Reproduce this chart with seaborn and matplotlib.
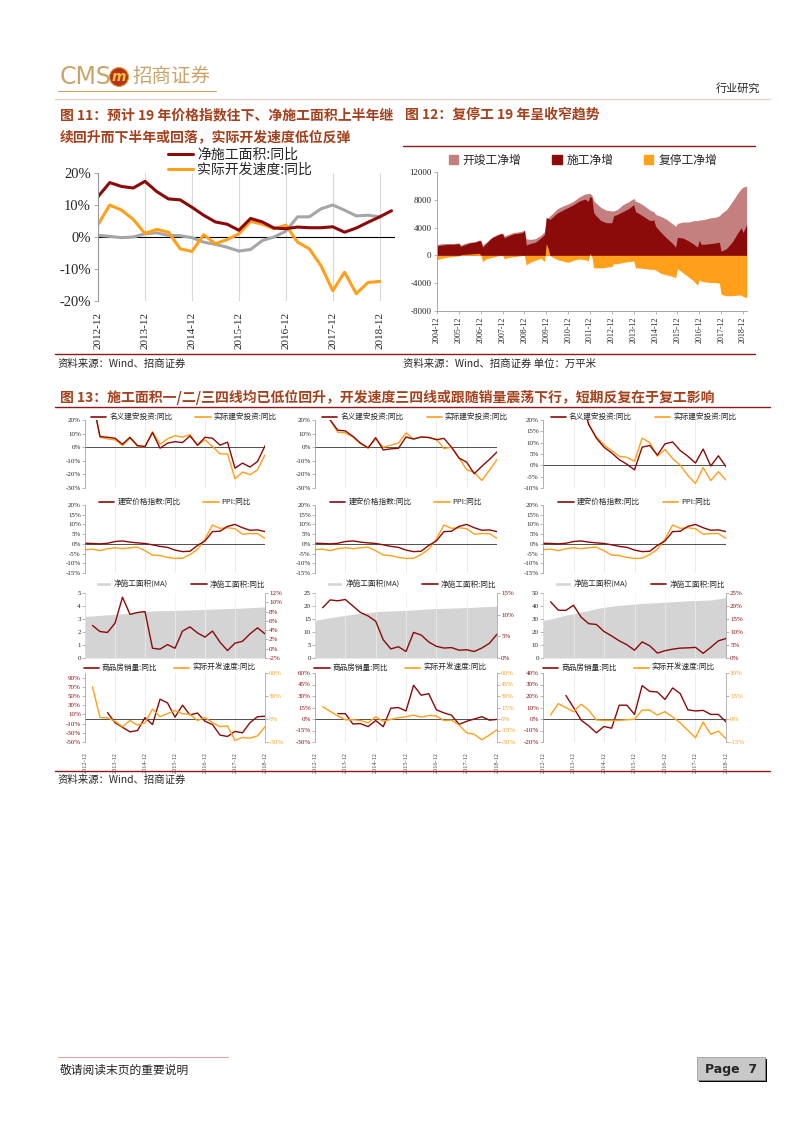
import numpy as np
import matplotlib.pyplot as plt
import seaborn as sns
from matplotlib.lines import Line2D
from matplotlib.patches import Patch, Rectangle, Ellipse

sns.set_theme(style='white')
SERIF = ['Liberation Serif', 'Noto Sans CJK SC']
CJK = ['Noto Sans CJK SC', 'DejaVu Sans']
plt.rcParams['font.family'] = SERIF
plt.rcParams['axes.unicode_minus'] = False

DARK = '#8B0A0A'
ORANGE = '#FF9F1A'
GREY = '#A6A6A6'
ROSE = '#C4807F'
AREA = '#D4D4D4'
TITLE = '#A5401C'
RULE = '#8B1A1A'
GOLD = '#C9A46A'
SPINE = '#9A9A9A'

# ---------------- data ----------------
year_labels = ['2012-12', '2013-12', '2014-12', '2015-12', '2016-12', '2017-12', '2018-12']

# fig 11, quarterly from 2012-12
f11_net_area = [12.6, 17.0, 15.8, 15.3, 17.4, 14.2, 11.9, 11.6, 9.3, 6.8, 4.7, 4.0, 2.1,
                5.8, 4.7, 2.8, 2.6, 3.1, 2.9, 2.9, 3.2, 1.5, 2.8, 4.6, 6.3, 8.2]
f11_dev_speed = [3.9, 10.0, 8.4, 5.5, 1.1, 2.4, 1.5, -3.7, -4.5, 0.7, -2.1, -0.8, 1.0,
                 4.9, 4.0, 2.6, 3.7, -1.6, -3.7, -9.0, -16.8, -11.0, -17.7, -14.2, -13.9]
f11_grey = [0.5, 0.2, -0.2, 0.0, 1.0, 1.3, 0.5, 0.4, -0.2, -1.6, -2.3, -3.2, -4.4,
            -3.9, -1.1, 0.0, 1.8, 6.3, 6.3, 8.8, 10.0, 8.4, 6.6, 6.8, 6.3]

# fig 12, monthly readings (万平米)
f12_dates = ['2004-12', '2005-03', '2005-06', '2005-09', '2005-12', '2006-01', '2006-03', '2006-06',
             '2006-09', '2006-11', '2006-12', '2007-01', '2007-03', '2007-06', '2007-09', '2007-11',
             '2007-12', '2008-01', '2008-03', '2008-06', '2008-09', '2008-11', '2008-12', '2009-01',
             '2009-03', '2009-06', '2009-09', '2009-11', '2009-12', '2010-01', '2010-02', '2010-03',
             '2010-06', '2010-09', '2010-12', '2011-03', '2011-06', '2011-09', '2011-11', '2011-12',
             '2012-01', '2012-02', '2012-03', '2012-06', '2012-09', '2012-12', '2013-01', '2013-03',
             '2013-06', '2013-09', '2013-12', '2014-01', '2014-03', '2014-06', '2014-09', '2014-11',
             '2014-12', '2015-03', '2015-06', '2015-09', '2015-11', '2015-12', '2016-03', '2016-06',
             '2016-09', '2016-11', '2016-12', '2017-01', '2017-03', '2017-06', '2017-09', '2017-11',
             '2017-12', '2018-03', '2018-06', '2018-09', '2018-11', '2018-12', '2019-02']
f12_construct = [1400, 1500, 1600, 1600, 1700, 1300, 1500, 1800,
                 1900, 2100, 2100, 1200, 1700, 2500, 2900, 3100,
                 3100, 2500, 2800, 3100, 3200, 3300, 3600, 1500,
                 1700, 1900, 2500, 3000, 5400, 5300, 5200, 5400,
                 6100, 6500, 6900, 7300, 7800, 8100, 7800, 8500,
                 8300, 6200, 5800, 5000, 4700, 4700, 5700, 5900,
                 6300, 6700, 7300, 6300, 6000, 5500, 5000, 5100,
                 4200, 3300, 2500, 1800, 1200, 2600, 2500, 2100,
                 1600, 1200, 2200, 1600, 1600, 1700, 1800, 1900,
                 600, 1000, 1900, 3200, 4000, 3300, 4400]
f12_total = [1600, 1700, 1700, 1700, 1800, 1500, 1700, 1900,
             2000, 2200, 2200, 1500, 1900, 2600, 3000, 3200,
             3200, 2800, 3000, 3300, 3400, 3500, 3700, 2400,
             2300, 2400, 2900, 3400, 5500, 5400, 5700, 5900,
             6700, 7100, 7400, 7800, 8400, 8800, 8900, 8900,
             8700, 7900, 7600, 6900, 6500, 6400, 6400, 6600,
             7300, 7700, 8200, 7800, 7600, 7100, 6500, 6300,
             5900, 5600, 5200, 4600, 4200, 4600, 4800, 4800,
             5000, 5000, 5100, 5100, 5200, 5400, 5500, 5700,
             6000, 6600, 7700, 8900, 9600, 9800, 10000]
f12_resume = [-600, -400, -250, -150, -100, 100, 150, 200,
              250, 300, 100, -900, -500, -300, -100, 0,
              0, -500, -300, -200, -100, 0, 0, -1400,
              -1000, -700, -400, -900, 1700, 1000, 0, -200,
              -600, -800, -1000, -700, -500, -600, -800, 300,
              -200, -1800, -1800, -1800, -1700, -1600, -1200, -1200,
              -1000, -900, -800, -1800, -1800, -1900, -2000, -2000,
              -2100, -2600, -2800, -3000, -3200, -1900, -2500, -3100,
              -3700, -4300, -3500, -3700, -3800, -3900, -3900, -4000,
              -5600, -5800, -5800, -5700, -5700, -5900, -6100]

# fig 13, quarterly, every series ends at 2018-12
inv_nominal_1 = [35, 7.8, 7.3, 6.6, 2.2, 7.3, 1.2, 0.5, 10.7, -0.7, 2.9, 4.1, 3.4, 8.3, 1.5,
                 7.3, 6.6, 1.5, 3.7, -15.4, -11.7, -14.6, -10.5, 1.0]
inv_real_1 = [35, 7.3, 6.1, 5.4, 1.2, 6.6, 0.5, 0.5, 11.5, 2.2, 6.1, 8.5, 7.3, 9.3, 1.2,
              5.4, 0.5, -4.9, -4.9, -23.2, -18.3, -20.2, -16.6, -5.6]
inv_nominal_2 = [30, 20, 12.5, 12, 8, 3, -0.5, 7, -2, -1.2, -0.8, 7.5, 6, 7.5, 7.2, 5.5,
                 6.5, 0, -8, -11, -19.5, -14, -9, -3.5]
inv_real_2 = [30, 20, 11, 10.5, 7.5, 2.5, -0.5, 6, 0, 1.5, 3, 10.5, 6, 7.5, 7, 6,
              -1, 0, -8, -16.5, -18.5, -24.5, -17, -9]
inv_nominal_3 = [30, 18, 12, 8, 5.5, 2.5, 0.5, -2, 8, 8.8, 4.5, 9.5, 10.3, 6.5, 4, 1,
                 7.2, -0.3, 4.2, -0.6]
inv_real_3 = [30, 18, 12.5, 9, 6.5, 4, 3.5, 1.8, 12, 10, 4, 7, 3, 0, -4.5, -8,
              -1, -6.7, -2.8, -6.5]

cons_price = [0.3, 0.2, 0.0, 0.3, 1.2, 1.5, 0.9, 0.5, 0.2, -0.5, -1.3, -1.8, -3.2, -4.0,
              -3.8, -0.8, 1.5, 6.3, 6.5, 9.0, 10.0, 8.3, 7.0, 7.2, 6.3]
ppi = [-3.0, -2.7, -3.5, -2.5, -2.0, -2.5, -2.0, -1.7, -3.5, -5.8, -6.0, -7.0, -7.5, -7.4,
       -5.5, -2.8, 2.5, 9.7, 8.0, 8.3, 7.8, 5.0, 5.3, 5.3, 2.8]

area_ma_1 = [3.20, 3.24, 3.28, 3.32, 3.36, 3.40, 3.45, 3.52, 3.58, 3.62, 3.64, 3.65, 3.66,
             3.68, 3.70, 3.72, 3.74, 3.76, 3.78, 3.80, 3.82, 3.84, 3.87, 3.90, 3.93]
area_yoy_1 = [5.0, 3.7, 3.5, 5.5, 11.1, 7.4, 7.8, 8.0, 0.1, -0.1, 0.9, 0.1, 3.8, 4.7, 3.4,
              2.5, 3.8, 1.4, -0.4, 1.2, 1.6, 3.2, 4.5, 3.2]
area_ma_2 = [14.5, 15.0, 15.5, 16.0, 16.4, 16.8, 17.2, 17.5, 17.8, 18.0, 18.1, 18.2, 18.3,
             18.5, 18.7, 18.9, 19.0, 19.1, 19.2, 19.3, 19.4, 19.5, 19.7, 19.8, 20.0]
area_yoy_2 = [11.6, 13.4, 13.2, 13.5, 12.0, 10.5, 9.7, 8.5, 4.2, 2.1, 2.6, 1.5, 5.9, 5.3,
              3.7, 2.7, 2.3, 2.4, 1.8, 1.9, 1.5, 2.3, 3.4, 5.5]
area_ma_3 = [29, 30, 31.5, 33, 34, 35.5, 36.5, 38, 39, 39.8, 40.5, 41, 41.5, 42, 42.3, 42.6,
             43, 43.3, 43.6, 44, 44.2, 44.4, 44.6, 45.5, 46.5]
area_yoy_3 = [21.6, 18.4, 18.3, 20.3, 15.7, 13.2, 12.9, 10.2, 8.5, 6.6, 5.1, 3.0, 6.2, 4.7,
              1.9, 2.8, 3.4, 3.8, 3.9, 4.1, 1.8, 4.1, 6.6, 7.5]

sales_1 = [14, -8, -18, -28, -25, 3, -12, 43, 35, 4, 30, 9, 13, -5, -12, -35, -38, -27,
           -30, -8, 5, 6]
dev_1 = [42, 2, 1.5, -3, -10, -2, -8, -5, 13, 3, 7, 11, 7, 6, -2, 2, -5, -10, -9, -28,
         -24, -25, -22, -10]
sales_2 = [7, 7, -6.5, -6, -10, -2, -10, 14, 15, 10.5, 44, 31, 33, 12, 8, 5, -7, -3, 0, 3,
           -1.5, -0.5]
dev_2 = [16, 10, 4, -1, -1, -2, -5, 3, -3, -0.5, 1.5, 3, 5, 2.5, 4.5, 4, -2, -1.5, -8, -18,
         -20, -27, -21, -14]
sales_3 = [20.5, 10, -1, -6, -12, -6.5, -8, 12, 12, 4, 29, 24, 23.5, 17, 27, 22, 8, 7, 7.5,
           4, 4, -2.5]
dev_3 = [2.6, 10, 7.4, 4.8, 9.6, 5.7, -0.7, -0.9, -0.9, -0.9, -0.5, -0.2, 5.9, 5.7, 2.6,
         4.8, 1.3, -2.6, -7.4, -12.2, -2, -10, -7.9, -12.9]

# ---------------- page ----------------
W, H = 802, 1133
fig = plt.figure(figsize=(W / 100, H / 100), dpi=100)


def box(x0, y0, x1, y1):
    return fig.add_axes([x0 / W, 1 - y1 / H, (x1 - x0) / W, (y1 - y0) / H])


def put(x, y, s, **kw):
    fig.text(x / W, 1 - y / H, s, **kw)


def rule(x0, x1, y, color=RULE, lw=1.0):
    fig.add_artist(Line2D([x0 / W, x1 / W], [1 - y / H] * 2, color=color, lw=lw))


def pct(ticks):
    return [f'{t}%' for t in ticks]


def qx(vals):
    return np.arange(25 - len(vals), 25)


# header
put(60, 77, 'CMS', family='DejaVu Sans', fontsize=17, color=GOLD, va='center')
fig.add_artist(Ellipse((119 / W, 1 - 77 / H), 19 / W, 19 / H, transform=fig.transFigure,
                       facecolor='#B8321A', edgecolor='#E0A040', lw=0.8))
put(119, 77, 'm', family='DejaVu Sans', fontsize=10, color='#F4C542', weight='bold',
    style='italic', ha='center', va='center')
put(132, 77, '招商证券', family=CJK, fontsize=14, color=GOLD, va='center')
rule(58, 216, 91, color=GOLD, lw=0.8)
put(760, 88, '行业研究', family=CJK, fontsize=8, ha='right', va='center')
rule(55, 770, 99, color='#EBCFC6', lw=1.0)

# titles and source lines
tkw = dict(family=CJK, fontsize=10, weight='bold', color=TITLE, va='center')
put(60, 115, '图 11：预计 19 年价格指数往下、净施工面积上半年继', **tkw)
put(60, 137, '续回升而下半年或回落，实际开发速度低位反弹', **tkw)
put(405, 115, '图 12：复停工 19 年呈收窄趋势', **tkw)
rule(403, 755, 146)
rule(55, 755, 354)
put(58, 364, '资料来源：Wind、招商证券', family=CJK, fontsize=7.5, va='center')
put(403, 364, '资料来源：Wind、招商证券 单位：万平米', family=CJK, fontsize=7.5, va='center')

put(60, 397, '图 13：施工面积一/二/三四线均已低位回升，开发速度三四线或跟随销量震荡下行，短期反复在于复工影响', **tkw)
rule(55, 770, 407)
rule(55, 770, 771)
put(58, 780, '资料来源：Wind、招商证券', family=CJK, fontsize=7.5, va='center')

# footer
rule(58, 228, 1057, color='#D8A8A0', lw=0.8)
put(60, 1070, '敬请阅读末页的重要说明', family=CJK, fontsize=8.5, va='center')
fig.add_artist(Rectangle((699 / W, 1 - 1082 / H), 68 / W, 23 / H, transform=fig.transFigure,
                         facecolor='black', edgecolor='none'))
fig.add_artist(Rectangle((697 / W, 1 - 1080 / H), 68 / W, 23 / H, transform=fig.transFigure,
                         facecolor='#C8C8C8', edgecolor='#909090', lw=0.5))
put(731, 1069, 'Page  7', family='DejaVu Sans', fontsize=9, weight='bold', ha='center', va='center')

# ---------------- fig 11 ----------------
ax = box(98, 173, 395, 301)
sns.lineplot(x=np.arange(len(f11_grey)), y=f11_grey, ax=ax, color=GREY, lw=2.2, legend=False)
sns.lineplot(x=np.arange(len(f11_dev_speed)), y=f11_dev_speed, ax=ax, color=ORANGE, lw=2.2, legend=False)
sns.lineplot(x=np.arange(len(f11_net_area)), y=f11_net_area, ax=ax, color=DARK, lw=2.2, legend=False)
ax.axhline(0, color='black', lw=0.8, zorder=1)
ax.set_xlim(0, 25.3)
ax.set_ylim(-20, 20)
for s in ['top', 'right', 'bottom']:
    ax.spines[s].set_visible(False)
ax.spines['left'].set_color(SPINE)
ax.spines['left'].set_linewidth(0.8)
ax.set_yticks([-20, -10, 0, 10, 20])
ax.set_yticklabels(pct([-20, -10, 0, 10, 20]), fontsize=10.5)
ax.set_xticks(np.arange(0, 25, 4))
ax.set_xticklabels(year_labels, rotation=90, fontsize=8)
ax.tick_params(axis='y', left=True, length=3, width=0.6, color=SPINE, pad=2)
ax.tick_params(axis='x', bottom=False, pad=2)
ax.grid(axis='x', color='#D9D9D9', lw=0.8)
ax.set_axisbelow(True)
ax.set_xlabel('')
ax.set_ylabel('')
ax.legend(handles=[Line2D([], [], color=DARK, lw=2.2, label='净施工面积:同比'),
                   Line2D([], [], color=ORANGE, lw=2.2, label='实际开发速度:同比')],
          loc='upper left', bbox_to_anchor=(0.235, 1.2), frameon=False,
          prop={'family': CJK, 'size': 10}, handlelength=1.8, labelspacing=0.1,
          handletextpad=0.3, borderpad=0, borderaxespad=0)

# ---------------- fig 12 ----------------
ax = box(437, 172, 747, 311)
x12 = np.array([int(d[:4]) + (int(d[5:]) - 1) / 12 for d in f12_dates])
ax.fill_between(x12, 0, f12_total, color=ROSE, lw=0)
ax.fill_between(x12, 0, f12_construct, color=DARK, lw=0)
ax.fill_between(x12, 0, f12_resume, color=ORANGE, lw=0)
ax.set_xlim(2004 + 11 / 12, 2019.1)
ax.set_ylim(-8000, 12000)
for s in ['top', 'right']:
    ax.spines[s].set_visible(False)
for s in ['left', 'bottom']:
    ax.spines[s].set_color(SPINE)
    ax.spines[s].set_linewidth(0.6)
yt = [-8000, -4000, 0, 4000, 8000, 12000]
ax.set_yticks(yt)
ax.set_yticklabels([str(v) for v in yt], fontsize=6.5)
xt = [y + 11 / 12 for y in range(2004, 2019)]
ax.set_xticks(xt)
ax.set_xticklabels([f'{y}-12' for y in range(2004, 2019)], rotation=90, fontsize=5.8)
ax.tick_params(axis='both', left=True, bottom=True, length=2, width=0.5, color=SPINE, pad=2)
ax.legend(handles=[Patch(color=ROSE, label='开竣工净增'), Patch(color=DARK, label='施工净增'),
                   Patch(color=ORANGE, label='复停工净增')],
          loc='center', bbox_to_anchor=(0.47, 1.085), ncol=3, frameon=False,
          prop={'family': CJK, 'size': 8.5}, handlelength=0.8, handleheight=0.8,
          handletextpad=0.4, columnspacing=2.6, borderpad=0)

# ---------------- fig 13 ----------------
cols = [(85, 265), (315, 497), (543, 726)]
rows = [(420, 488), (505, 573), (593, 658), (673, 742)]
LEG = dict(frameon=False, ncol=2, loc='center', prop={'family': CJK, 'size': 5.5},
           handlelength=2.0, handletextpad=0.4, borderpad=0)


def small(col, row):
    x0, x1 = cols[col]
    y0, y1 = rows[row]
    a = box(x0, y0, x1, y1)
    a.set_xlim(0, 24)
    for s in ['top', 'right', 'bottom']:
        a.spines[s].set_visible(False)
    a.spines['left'].set_color(SPINE)
    a.spines['left'].set_linewidth(0.5)
    a.set_xticks(np.arange(0, 25, 4))
    a.grid(axis='x', color='#E3E3E3', lw=0.5)
    a.tick_params(axis='y', left=True, length=2, width=0.5, color=SPINE, labelsize=5, pad=1)
    a.tick_params(axis='x', bottom=False, labelbottom=False)
    return a


def right_axis(a, lim, ticks, color):
    a2 = a.twinx()
    for s in ['top', 'left', 'bottom']:
        a2.spines[s].set_visible(False)
    a2.spines['right'].set_color(SPINE)
    a2.spines['right'].set_linewidth(0.5)
    a2.set_ylim(*lim)
    a2.set_yticks(ticks)
    a2.set_yticklabels(pct(ticks), color=color)
    a2.tick_params(axis='y', right=True, length=2, width=0.5, color=SPINE, labelsize=5, pad=1)
    a2.grid(False)
    return a2


def finish(a):
    a.set_xlabel('')
    a.set_ylabel('')


# row 1: 名义 / 实际建安投资
inv_sets = [(inv_nominal_1, inv_real_1, (-30, 20), [-30, -20, -10, 0, 10, 20]),
            (inv_nominal_2, inv_real_2, (-30, 20), [-30, -20, -10, 0, 10, 20]),
            (inv_nominal_3, inv_real_3, (-10, 20), [-10, -5, 0, 5, 10, 15, 20])]
for c, (nom, real, lim, ticks) in enumerate(inv_sets):
    a = small(c, 0)
    sns.lineplot(x=qx(real), y=real, ax=a, color=ORANGE, lw=1.0, legend=False)
    sns.lineplot(x=qx(nom), y=nom, ax=a, color=DARK, lw=1.0, legend=False)
    a.axhline(0, color='#333333', lw=0.6, zorder=1)
    a.set_ylim(*lim)
    a.set_yticks(ticks)
    a.set_yticklabels(pct(ticks))
    finish(a)
    a.legend(handles=[Line2D([], [], color=DARK, lw=1.2, label='名义建安投资:同比'),
                      Line2D([], [], color=ORANGE, lw=1.2, label='实际建安投资:同比')],
             bbox_to_anchor=(0.55, 1.04), columnspacing=3.0, **LEG)

# row 2: 建安价格指数 / PPI (same chart in every column)
for c in range(3):
    a = small(c, 1)
    sns.lineplot(x=qx(ppi), y=ppi, ax=a, color=ORANGE, lw=1.0, legend=False)
    sns.lineplot(x=qx(cons_price), y=cons_price, ax=a, color=DARK, lw=1.0, legend=False)
    a.axhline(0, color='#333333', lw=0.6, zorder=1)
    a.set_ylim(-15, 20)
    t = [-15, -10, -5, 0, 5, 10, 15, 20]
    a.set_yticks(t)
    a.set_yticklabels(pct(t))
    finish(a)
    a.legend(handles=[Line2D([], [], color=DARK, lw=1.2, label='建安价格指数:同比'),
                      Line2D([], [], color=ORANGE, lw=1.2, label='PPI:同比')],
             bbox_to_anchor=(0.5, 1.04), columnspacing=3.0, **LEG)

# row 3: 净施工面积
area_sets = [(area_ma_1, area_yoy_1, (0, 5), [0, 1, 2, 3, 4, 5], (-2, 12), [-2, 0, 2, 4, 6, 8, 10, 12]),
             (area_ma_2, area_yoy_2, (0, 25), [0, 5, 10, 15, 20, 25], (0, 15), [0, 5, 10, 15]),
             (area_ma_3, area_yoy_3, (0, 50), [0, 10, 20, 30, 40, 50], (0, 25), [0, 5, 10, 15, 20, 25])]
for c, (ma, yoy, lim, ticks, rlim, rticks) in enumerate(area_sets):
    a = small(c, 2)
    a.fill_between(qx(ma), 0, ma, color=AREA, lw=0, zorder=0)
    a.grid(axis='x', color='#EFEFEF', lw=0.5)
    a.set_axisbelow(False)
    a.set_ylim(*lim)
    a.set_yticks(ticks)
    a.set_yticklabels([str(v) for v in ticks])
    a2 = right_axis(a, rlim, rticks, DARK)
    sns.lineplot(x=qx(yoy), y=yoy, ax=a2, color=DARK, lw=1.0, legend=False)
    a2.set_ylim(*rlim)
    finish(a)
    finish(a2)
    a2.legend(handles=[Patch(facecolor=AREA, label='净施工面积(MA)'),
                       Line2D([], [], color=DARK, lw=1.2, label='净施工面积:同比')],
              bbox_to_anchor=(0.53, 1.13), handleheight=0.6, columnspacing=3.0, **LEG)

# row 4: 商品房销量 / 实际开发速度
sale_sets = [(sales_1, dev_1, (-50, 100), list(range(-50, 91, 20)), (-30, 60), [-30, 0, 30, 60]),
             (sales_2, dev_2, (-30, 60), list(range(-30, 61, 15)), (-30, 60), list(range(-30, 61, 15))),
             (sales_3, dev_3, (-20, 40), list(range(-20, 41, 10)), (-15, 30), [-15, 0, 15, 30])]
for c, (sales, dev, lim, ticks, rlim, rticks) in enumerate(sale_sets):
    a = small(c, 3)
    a.axhline(0, color='#333333', lw=0.6, zorder=1)
    sns.lineplot(x=qx(sales), y=sales, ax=a, color=DARK, lw=1.0, legend=False)
    a.set_ylim(*lim)
    a.set_yticks(ticks)
    a.set_yticklabels(pct(ticks), color=DARK)
    a.tick_params(axis='x', labelbottom=True, pad=1)
    a.set_xticklabels(year_labels, rotation=90, fontsize=4.5, color='#444444')
    a2 = right_axis(a, rlim, rticks, ORANGE)
    sns.lineplot(x=qx(dev), y=dev, ax=a2, color=ORANGE, lw=1.0, legend=False)
    a2.set_ylim(*rlim)
    finish(a)
    finish(a2)
    a2.legend(handles=[Line2D([], [], color=DARK, lw=1.2, label='商品房销量:同比'),
                       Line2D([], [], color=ORANGE, lw=1.2, label='实际开发速度:同比')],
              bbox_to_anchor=(0.47, 1.07), columnspacing=2.2, **LEG)

fig.savefig('out.png', dpi=100)
plt.close(fig)
